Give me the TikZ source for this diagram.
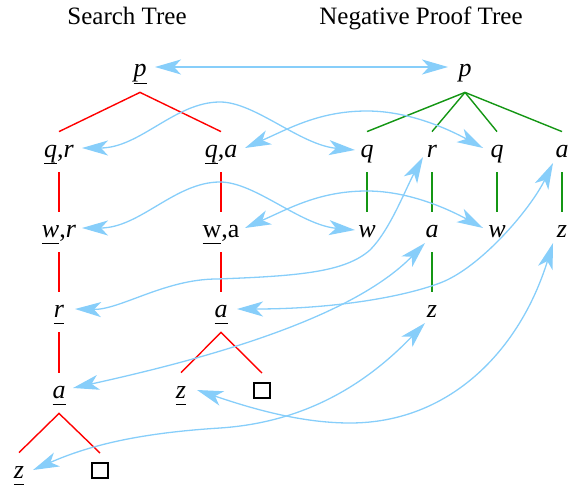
\documentclass[tikz,border=0pt]{standalone}
\usepackage{fontspec}
\setmainfont{Liberation Serif}
\usetikzlibrary{arrows.meta}

\definecolor{linkblue}{RGB}{135,206,250}
\definecolor{proofgreen}{RGB}{20,150,20}

\newsavebox\ulnbox
\newcommand\uln[1]{\sbox\ulnbox{#1}\rlap{\rule[-3.6pt]{\wd\ulnbox}{0.65pt}}\usebox\ulnbox}

\begin{document}
\begin{tikzpicture}[x=0.5pt,y=-0.5pt,
    lbl/.style={anchor=base,inner xsep=3pt,inner ysep=0.5pt,text height=12pt,text depth=7pt,
      font=\fontsize{13}{15}\selectfont},
    ttl/.style={anchor=base,font=\fontsize{12.5}{15}\selectfont},
    emptybox/.style={draw,line width=0.7pt,minimum width=8pt,minimum height=7.5pt,
      inner sep=0pt,outer xsep=0pt,outer ysep=5pt,anchor=south},
    searchedge/.style={red,line width=0.7pt},
    proofedge/.style={proofgreen,line width=0.7pt},
    link/.style={linkblue,line width=0.65pt,
      {Stealth[length=13pt,width=7.5pt,inset=3.5pt]}-{Stealth[length=13pt,width=7.5pt,inset=3.5pt]}}
  ]
  \useasboundingbox (0,0) rectangle (576,486);

  \node[ttl] (stitle) at (127,25) {Search Tree};
  \node[ttl] (ptitle) at (421,25) {Negative Proof Tree};

  % search tree
  \node[lbl] (sp)  at (140,77)  {\uln{\textit{p}}};
  \node[lbl] (sqr) at (59,157)  {\uln{\textit{q}},\textit{r}};
  \node[lbl] (sqa) at (221,157) {\uln{\textit{q}},\textit{a}};
  \node[lbl] (swr) at (59,237)  {\uln{\textit{w}},\textit{r}};
  \node[lbl] (swa) at (221,237) {\uln{w},a};
  \node[lbl] (sr)  at (59,317)  {\uln{\textit{r}}};
  \node[lbl] (sa)  at (221,317) {\uln{\textit{a}}};
  \node[lbl] (sa2) at (59,398)  {\uln{\textit{a}}};
  \node[lbl] (sz)  at (181,398) {\uln{\textit{z}}};
  \node[emptybox] (sbox) at (262,408) {};
  \node[lbl] (sz2) at (19,478)  {\uln{\textit{z}}};
  \node[emptybox] (sbox2) at (100,488) {};

  \draw[searchedge] (sqr.north) -- (sp.south) -- (sqa.north);
  \draw[searchedge] (sz.north) -- (sa.south) -- (sbox.north);
  \draw[searchedge] (sz2.north) -- (sa2.south) -- (sbox2.north);
  \foreach \a/\b in {sqr/swr, swr/sr, sr/sa2, sqa/swa, swa/sa}
    \draw[searchedge] (\a.south) -- (\b.north);

  % negative proof tree
  \node[lbl] (pp)  at (465,77)  {\textit{p}};
  \node[lbl] (pq1) at (367,157) {\textit{q}};
  \node[lbl] (pr)  at (432,157) {\textit{r}};
  \node[lbl] (pq2) at (497,157) {\textit{q}};
  \node[lbl] (pa)  at (562,157) {\textit{a}};
  \node[lbl] (pw1) at (367,237) {\textit{w}};
  \node[lbl] (pa2) at (432,237) {\textit{a}};
  \node[lbl] (pw2) at (497,237) {\textit{w}};
  \node[lbl] (pz)  at (562,237) {\textit{z}};
  \node[lbl] (pz2) at (432,317) {\textit{z}};

  \foreach \c in {pq1,pr,pq2,pa}
    \draw[proofedge] (pp.south) -- (\c.north);
  \foreach \a/\b in {pq1/pw1, pr/pa2, pq2/pw2, pa/pz, pa2/pz2}
    \draw[proofedge] (\a.south) -- (\b.north);

  % correspondences
  \draw[link] ([shift={(15,-5)}]sp.center) -- ([shift={(-17,-5)}]pp.center);
  \draw[link] ([shift={(23,-4)}]sqr.center) .. controls (140,148) and (175,102) .. (220,102)
    .. controls (255,102) and (300,145) .. ([shift={(-12,-2)}]pq1.center);
  \draw[link] ([shift={(24,-4)}]sqa.center) .. controls (290,128) and (320,111) .. (367,111)
    .. controls (410,111) and (450,130) .. ([shift={(-14,-4)}]pq2.center);
  \draw[link] ([shift={(23,-4)}]swr.center) .. controls (140,228) and (175,182) .. (220,182)
    .. controls (255,182) and (300,225) .. ([shift={(-12,-2)}]pw1.center);
  \draw[link] ([shift={(24,-4)}]swa.center) .. controls (290,208) and (320,191) .. (367,191)
    .. controls (410,191) and (450,210) .. ([shift={(-14,-4)}]pw2.center);
  \draw[link] ([shift={(16,-3)}]sr.center) .. controls (120,310) and (165,279) .. (217,279)
    .. controls (300,276) and (345,272) .. (370,250)
    .. controls (390,230) and (405,190) .. ([shift={(-9,5)}]pr.center);
  \draw[link] ([shift={(16,-3)}]sa.center) .. controls (330,309) and (400,298) .. (440,283)
    .. controls (480,268) and (530,210) .. ([shift={(-9,11)}]pa.center);
  \draw[link] ([shift={(14,-5)}]sa2.center) .. controls (200,360) and (350,320) .. ([shift={(-7,11)}]pa2.center);
  \draw[link] ([shift={(16,-3)}]sz.center) .. controls (250,408) and (300,423) .. (350,423)
    .. controls (450,423) and (520,350) .. ([shift={(-9,11)}]pz.center);
  \draw[link] ([shift={(14,-3)}]sz2.center) .. controls (90,445) and (140,433) .. (220,428)
    .. controls (310,422) and (370,380) .. ([shift={(-7,11)}]pz2.center);
\end{tikzpicture}
\end{document}
